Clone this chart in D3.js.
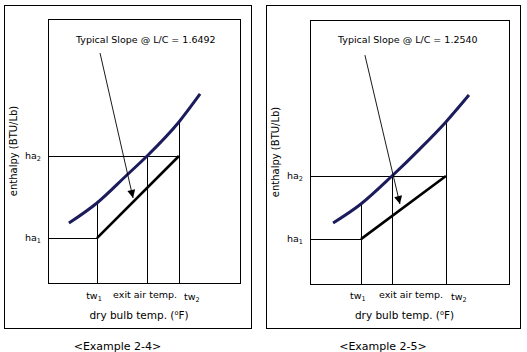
<!DOCTYPE html>
<html>
<head>
<meta charset="utf-8">
<script src="https://cdn.jsdelivr.net/npm/d3@7"></script>
<style>
  body { margin:0; background:#fff; }
  svg { font-family:"DejaVu Sans", Verdana, sans-serif; font-size:9.5px; }
</style>
</head>
<body>
<svg></svg>
<script>
const WIDTH = 527
const HEIGHT = 352

// values in % of plot width / height (schematic chart, no numeric ticks)
const curve24 = [[10.9,22.7],[25.5,30.3],[41.1,40.9],[51.6,48.1],[68.2,61.0],[79.2,71.6]]
const curve25 = [[11.6,23.1],[25.6,30.3],[41.2,40.9],[55.0,51.0],[68.3,61.4],[79.9,71.6]]
const temps24 = { tw1:25.5, exit:51.6, tw2:68.2 }
const temps25 = { tw1:25.6, exit:41.2, tw2:68.3 }
const ha24 = { ha1:17.0, ha2:48.1 }
const ha25 = { ha1:17.0, ha2:40.9 }
const arrow24 = [[27.1,87.1],[44.3,32.2]]
const arrow25 = [[27.6,86.7],[45.2,30.3]]
const slopes = ['1.6492','1.2540']
const captions = ['<Example 2-4>','<Example 2-5>']

const panels = [
  { frame:[4,5,251,328], box:[48,19,240,283], curve:curve24, t:temps24, h:ha24, arrow:arrow24, slope:slopes[0], caption:captions[0] },
  { frame:[266,5,520,328], box:[310,20,509,284], curve:curve25, t:temps25, h:ha25, arrow:arrow25, slope:slopes[1], caption:captions[1] }
]

const svg = d3.select('svg')
  .attr('width',WIDTH)
  .attr('height',HEIGHT)

svg.append('defs').append('marker')
  .attr('id','head')
  .attr('viewBox','0 0 10 10')
  .attr('refX',10).attr('refY',5)
  .attr('markerWidth',9).attr('markerHeight',8)
  .attr('markerUnits','userSpaceOnUse')
  .attr('orient','auto')
  .append('path').attr('d','M0,0L10,5L0,10Z').attr('fill','#000')

panels.forEach(p => {
  const [fx0,fy0,fx1,fy1] = p.frame
  const [bx0,by0,bx1,by1] = p.box
  const x = d3.scaleLinear().domain([0,100]).range([bx0,bx1])
  const y = d3.scaleLinear().domain([0,100]).range([by1,by0])
  const g = svg.append('g')

  g.append('rect')
    .attr('x',fx0+0.5).attr('y',fy0+0.5)
    .attr('width',fx1-fx0).attr('height',fy1-fy0)
    .attr('fill','none').attr('stroke','#000')
  g.append('rect')
    .attr('x',bx0+0.5).attr('y',by0+0.5)
    .attr('width',bx1-bx0).attr('height',by1-by0)
    .attr('fill','none').attr('stroke','#000')

  // interpolate curve at given x to find where verticals end
  const curveAt = xv => {
    const c = p.curve
    for(let i=1;i<c.length;i++){
      if(xv<=c[i][0]){
        const k = (xv-c[i-1][0])/(c[i][0]-c[i-1][0])
        return c[i-1][1]+k*(c[i][1]-c[i-1][1])
      }
    }
    return c[c.length-1][1]
  }

  const thin = g.append('g').attr('stroke','#000').attr('stroke-width',1).attr('shape-rendering','crispEdges')
  ;[p.t.tw1,p.t.exit,p.t.tw2].forEach(tv => {
    thin.append('line')
      .attr('x1',Math.round(x(tv))+0.5).attr('x2',Math.round(x(tv))+0.5)
      .attr('y1',y(curveAt(tv))).attr('y2',by1)
  })
  thin.append('line')
    .attr('x1',bx0).attr('x2',x(p.t.tw2))
    .attr('y1',Math.round(y(p.h.ha2))+0.5).attr('y2',Math.round(y(p.h.ha2))+0.5)
  thin.append('line')
    .attr('x1',bx0).attr('x2',x(p.t.tw1))
    .attr('y1',Math.round(y(p.h.ha1))+0.5).attr('y2',Math.round(y(p.h.ha1))+0.5)

  // operating line
  g.append('line')
    .attr('x1',x(p.t.tw1)).attr('y1',y(p.h.ha1))
    .attr('x2',x(p.t.tw2)).attr('y2',y(p.h.ha2))
    .attr('stroke','#000').attr('stroke-width',2.6)

  // saturation curve
  g.append('path')
    .datum(p.curve)
    .attr('d',d3.line().x(d => x(d[0])).y(d => y(d[1])).curve(d3.curveMonotoneX))
    .attr('fill','none').attr('stroke','#1c1c5c').attr('stroke-width',3)

  // arrow
  g.append('line')
    .attr('x1',x(p.arrow[0][0])).attr('y1',y(p.arrow[0][1]))
    .attr('x2',x(p.arrow[1][0])).attr('y2',y(p.arrow[1][1]))
    .attr('stroke','#000').attr('stroke-width',0.9)
    .attr('marker-end','url(#head)')

  g.append('text')
    .attr('x',bx0+28).attr('y',43)
    .style('font-size','9.5px')
    .text('Typical Slope @ L/C = '+p.slope)

  const sub = (t,main,s) => {
    t.append('tspan').text(main)
    t.append('tspan').style('font-size','6.5px').attr('dy',2).text(s)
  }
  sub(g.append('text').attr('x',bx0-23).attr('y',y(p.h.ha2)+3),'ha','2')
  sub(g.append('text').attr('x',bx0-23).attr('y',y(p.h.ha1)+3),'ha','1')

  sub(g.append('text').attr('text-anchor','middle').attr('x',x(p.t.tw1)-3).attr('y',299),'tw','1')
  sub(g.append('text').attr('text-anchor','middle').attr('x',x(p.t.tw2)+13).attr('y',300),'tw','2')
  const exitX = p === panels[0] ? x(p.t.exit)-2 : x(p.t.exit)+19
  g.append('text').attr('text-anchor','middle').attr('x',exitX).attr('y',298).text('exit air temp.')

  const dry = g.append('text').attr('text-anchor','middle').attr('x',(bx0+bx1)/2-5).attr('y',319)
    .style('font-size','10.5px')
  dry.append('tspan').text('dry bulb temp. (')
  dry.append('tspan').style('font-size','6.5px').attr('dy',-4).text('o')
  dry.append('tspan').attr('dy',4).text('F)')

  g.append('text')
    .attr('transform',`translate(${fx0+13},${(by0+by1)/2}) rotate(-90)`)
    .attr('text-anchor','middle')
    .style('font-size','10px')
    .text('enthalpy (BTU/Lb)')

  g.append('text')
    .attr('text-anchor','middle')
    .attr('x',(fx0+fx1)/2-10).attr('y',350)
    .style('font-size','11px')
    .text(p.caption)
})
</script>
</body>
</html>
